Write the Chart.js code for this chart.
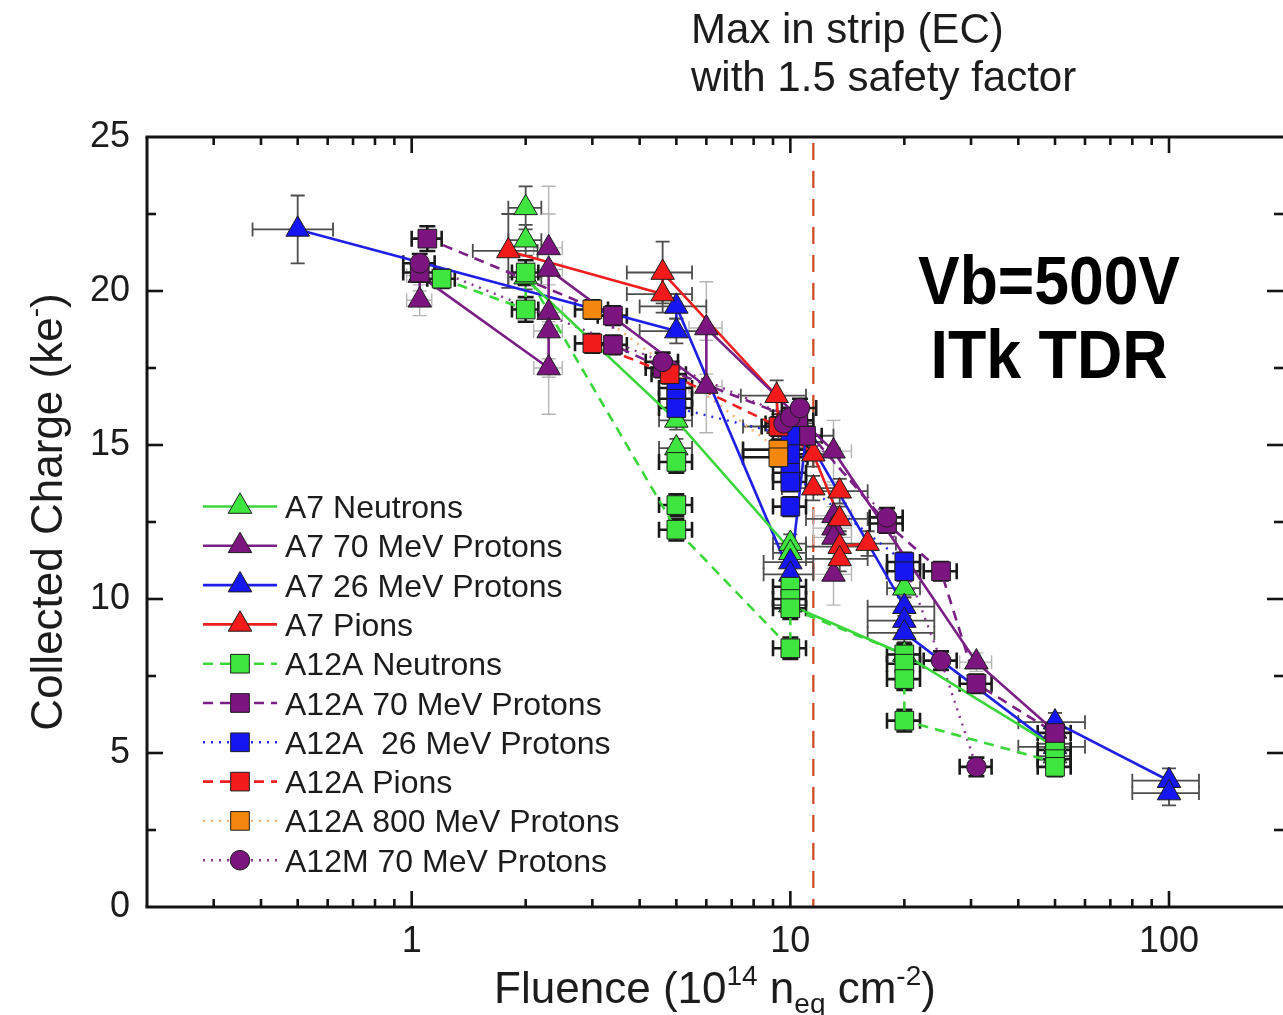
<!DOCTYPE html>
<html>
<head>
<meta charset="utf-8">
<title>Collected Charge vs Fluence</title>
<script src="https://cdn.jsdelivr.net/npm/chart.js@4.4.1/dist/chart.umd.min.js"></script>
<style>
html,body{margin:0;padding:0;background:#ffffff;overflow:hidden;}
canvas{display:block;}
</style>
</head>
<body>
<canvas id="chart" width="1283" height="1015"></canvas>
<script>
// ===================== DATA =====================
// axes
const xTickValues = [0.2,0.3,0.4,0.5,0.6,0.7,0.8,0.9,1,2,3,4,5,6,7,8,9,10,20,30,40,50,60,70,80,90,100,200];
const xTickLabels = ['1','10','100'];
const yTickValues = [0,5,10,15,20,25];
const yMinorTickValues = [2.5,7.5,12.5,17.5,22.5];
const maxInStripEC = 11.5;

// A7 Neutrons
const a7nX    = [2,2,2,5,5,10,10,10,20,20,50,50];
const a7nY    = [22.7,21.65,20.45,15.8,14.9,11.8,11.5,9.8,10.35,8.2,5.3,4.9];
const a7nXerr = [0.2,0.2,0.2,0.5,0.5,1,1,1,2,2,5,5];
const a7nYerr = [0.7,0.5,0.4,0.3,0.3,0.3,0.3,0.3,0.3,0.3,0.3,0.3];
const a7nLineX = [2,5,10,10,20,50];
const a7nLineY = [20.4,15.8,11.6,9.8,8.2,5.2];

// A7 70 MeV Protons
const a7pX    = [1.05,1.05,2.3,2.3,2.3,2.3,2.3,6,6,13,13,13,13,13,31,50];
const a7pY    = [19.7,20.5,21.4,20.7,19.3,18.7,17.5,18.8,16.9,14.8,12.7,12.3,12.0,10.8,7.95,5.7];
const a7pXerr = [0.08,0.08,0.2,0.2,0.2,0.2,0.2,0.6,0.6,1.5,1.5,1.5,1.5,1.5,3,5];
const a7pYerr = [0.5,0.5,2.0,1.8,1.5,1.5,1.5,1.5,1.5,1.0,1.0,1.0,1.0,1.0,0.3,0.3];
const a7pLineX = [1.05,1.05,2.3,2.3,6,6,13,31,50];
const a7pLineY = [19.7,20.5,17.5,20.7,16.9,18.8,14.8,7.95,5.7];

// A7 26 MeV Protons
const a7bX    = [0.5,5,5,10,10,11,20,20,20,50,50,100,100];
const a7bY    = [22.0,19.5,18.7,11.2,10.8,15.3,9.75,9.3,8.9,6.0,5.2,4.1,3.7];
const a7bXerr = [0.12,1,1,1.5,1.5,2,4,4,4,10,10,20,20];
const a7bYerr = [1.1,0.4,0.4,0.4,0.4,0.4,0.3,0.3,0.3,0.3,0.3,0.4,0.4];
const a7bLineX = [0.5,5,5,10,11,20,20,50,50,100];
const a7bLineY = [22.0,18.7,19.5,10.8,15.3,9.75,8.9,5.2,6.0,4.1];

// A7 Pions
const a7rX    = [1.8,4.6,4.6,9.2,9.3,11.5,11.5,13.5,13.5,13.5,13.5,16];
const a7rY    = [21.3,20.6,19.9,16.6,15.6,14.7,13.6,13.5,12.6,11.7,11.3,11.8];
const a7rXerr = [0.35,0.9,0.9,1.8,1.8,2,2,2.5,2.5,2.5,2.5,3];
const a7rYerr = [1.2,1.0,0.6,0.5,0.4,0.4,0.4,0.4,0.4,0.4,0.4,0.4];
const a7rLineX = [1.8,4.6,4.6,9.2,9.3,11.5,13.5,13.5,16];
const a7rLineY = [21.3,19.9,20.6,16.6,15.6,14.7,12.6,11.7,11.8];

// A12A Neutrons
const a12nX    = [1.2,2,2,5,5,5,10,10,10,10,20,20,20,20,50,50,50];
const a12nY    = [20.4,20.6,19.4,14.45,13.05,12.25,10.4,10.0,9.7,8.4,8.2,7.9,7.4,6.05,5.1,4.8,4.55];
const a12nXerr = [0.1,0.16,0.16,0.5,0.5,0.5,1,1,1,1,2,2,2,2,5,5,5];
const a12nYerr = [0.3,0.4,0.4,0.35,0.35,0.35,0.35,0.35,0.35,0.35,0.35,0.35,0.35,0.35,0.3,0.3,0.3];
const a12nLineX = [1.2,2,2,5,10,10,20,20,50];
const a12nLineY = [20.4,19.4,20.6,12.25,8.4,9.7,8.2,6.05,4.7];

// A12A 70 MeV Protons
const a12pX    = [1.1,1.05,3.4,3.4,4.6,10.5,11,18,25,31,50];
const a12pY    = [21.7,20.6,19.2,18.25,17.5,15.8,15.3,12.45,10.9,7.25,5.65];
const a12pXerr = [0.1,0.1,0.3,0.3,0.45,1,1.1,1.8,2.5,3,5];
const a12pYerr = [0.4,0.3,0.3,0.3,0.3,0.3,0.3,0.3,0.3,0.3,0.3];
const a12pLineX = [1.1,3.4,3.4,4.6,10.5,18,25,31,50];
const a12pLineY = [21.7,19.2,18.25,17.5,15.8,12.45,10.9,7.25,5.65];

// A12A 26 MeV Protons
const a12bX    = [5,5,5,10,10,10,10,10,20,20];
const a12bY    = [16.85,16.5,16.2,15.3,14.7,14.1,13.8,13.0,11.2,10.9];
const a12bXerr = [0.5,0.5,0.5,1,1,1,1,1,2,2];
const a12bYerr = [0.3,0.3,0.3,0.3,0.3,0.3,0.3,0.3,0.3,0.3];
const a12bLineX = [5,5,10,10,20,20];
const a12bLineY = [16.85,16.2,15.3,14.1,11.2,10.9];

// A12A Pions
const a12rX    = [3.0,4.8,9.3];
const a12rY    = [18.3,17.3,15.6];
const a12rXerr = [0.3,0.5,0.9];
const a12rYerr = [0.3,0.3,0.3];
const a12rLineX = [3.0,4.8,9.3];
const a12rLineY = [18.3,17.3,15.6];

// A12A 800 MeV Protons
const a12oX    = [3.0,9.3,9.3];
const a12oY    = [19.4,14.85,14.6];
const a12oXerr = [0.3,1.8,1.8];
const a12oYerr = [0.3,0.3,0.3];
const a12oLineX = [3.0,9.3];
const a12oLineY = [19.4,14.85];

// A12M 70 MeV Protons
const a12mX    = [1.05,4.6,9.6,10,10.6,18,25,31];
const a12mY    = [20.9,17.7,15.7,15.9,16.2,12.65,8.0,4.55];
const a12mXerr = [0.1,0.45,1,1,1.1,1.8,2.5,3];
const a12mYerr = [0.3,0.3,0.3,0.3,0.3,0.3,0.3,0.3];
const a12mLineX = [1.05,4.6,10,18,25,31];
const a12mLineY = [20.9,17.7,15.9,12.65,8.0,4.55];

// ===================== SERIES & STYLES =====================
const series = [
  {label:'A7 Neutrons',          x:a7nX,  y:a7nY,  xe:a7nXerr,  ye:a7nYerr,  lx:a7nLineX,  ly:a7nLineY},
  {label:'A7 70 MeV Protons',    x:a7pX,  y:a7pY,  xe:a7pXerr,  ye:a7pYerr,  lx:a7pLineX,  ly:a7pLineY},
  {label:'A7 26 MeV Protons',    x:a7bX,  y:a7bY,  xe:a7bXerr,  ye:a7bYerr,  lx:a7bLineX,  ly:a7bLineY},
  {label:'A7 Pions',             x:a7rX,  y:a7rY,  xe:a7rXerr,  ye:a7rYerr,  lx:a7rLineX,  ly:a7rLineY},
  {label:'A12A Neutrons',        x:a12nX, y:a12nY, xe:a12nXerr, ye:a12nYerr, lx:a12nLineX, ly:a12nLineY},
  {label:'A12A 70 MeV Protons',  x:a12pX, y:a12pY, xe:a12pXerr, ye:a12pYerr, lx:a12pLineX, ly:a12pLineY},
  {label:'A12A  26 MeV Protons', x:a12bX, y:a12bY, xe:a12bXerr, ye:a12bYerr, lx:a12bLineX, ly:a12bLineY},
  {label:'A12A Pions',           x:a12rX, y:a12rY, xe:a12rXerr, ye:a12rYerr, lx:a12rLineX, ly:a12rLineY},
  {label:'A12A 800 MeV Protons', x:a12oX, y:a12oY, xe:a12oXerr, ye:a12oYerr, lx:a12oLineX, ly:a12oLineY},
  {label:'A12M 70 MeV Protons',  x:a12mX, y:a12mY, xe:a12mXerr, ye:a12mYerr, lx:a12mLineX, ly:a12mLineY}
];

const GREEN='#3fe63f', PURPLE='#7c157f', BLUE='#1616f2', RED='#f21a1a', ORANGE='#f4880e';
const DASH=[10,7], DOT=[2,6];
const A7ERR={c:'#4d4d4d',w:1.8,cap:7}, A7LIGHT={c:'#b4b4b4',w:1.4,cap:7}, A12ERR={c:'#1a1a1a',w:2.6,cap:8};
const styles = [
  {shape:'triangle', r:13.6, fill:GREEN,  line:'#3ad63a', lw:2.6, dash:[],   err:A7ERR},
  {shape:'triangle', r:13.6, fill:PURPLE, line:'#7a1f85', lw:2.6, dash:[],   err:A7LIGHT},
  {shape:'triangle', r:13.6, fill:BLUE,   line:'#1f1fe6', lw:2.6, dash:[],   err:A7ERR},
  {shape:'triangle', r:13.6, fill:RED,    line:'#ee1e1e', lw:2.6, dash:[],   err:A7ERR},
  {shape:'rect',     r:13.2, fill:GREEN,  line:'#3ad63a', lw:2.6, dash:DASH, err:A12ERR},
  {shape:'rect',     r:13.2, fill:PURPLE, line:'#7a1f85', lw:2.6, dash:DASH, err:A12ERR},
  {shape:'rect',     r:13.2, fill:BLUE,   line:'#2a2ae0', lw:2.4, dash:DOT,  err:A12ERR},
  {shape:'rect',     r:13.2, fill:RED,    line:'#ee1e1e', lw:2.6, dash:DASH, err:A12ERR},
  {shape:'rect',     r:13.2, fill:ORANGE, line:'#f3b27a', lw:2.4, dash:DOT,  err:A12ERR},
  {shape:'circle',   r:9.8,  fill:PURPLE, line:'#86348f', lw:2.4, dash:DOT,  err:A12ERR}
];

const datasets = [];
series.forEach((s, i) => {
  const st = styles[i];
  datasets.push({
    label: s.label + ' (line)',
    data: s.lx.map((v, k) => ({x: v, y: s.ly[k]})),
    showLine: true, borderColor: st.line, borderWidth: st.lw, borderDash: st.dash,
    pointRadius: 0, pointHoverRadius: 0, fill: false, tension: 0, order: 100 + i
  });
  datasets.push({
    label: s.label,
    data: s.x.map((v, k) => ({x: v, y: s.y[k]})),
    showLine: false, pointStyle: st.shape, pointRadius: st.r, pointHoverRadius: st.r,
    backgroundColor: st.fill, borderColor: '#1c1c1c', borderWidth: 1,
    order: 20 - i,
    errX: s.xe, errY: s.ye, errStyle: st.err
  });
});

const FONT = '"Liberation Sans", Arial, Helvetica, sans-serif';
const TEXT = '#1c1c1c';

// ===================== PLUGINS =====================
const refLinePlugin = {
  id: 'refLine',
  beforeDatasetsDraw(chart) {
    const {ctx, chartArea: a, scales: {x}} = chart;
    const px = x.getPixelForValue(maxInStripEC);
    ctx.save();
    ctx.strokeStyle = '#d2451e'; ctx.lineWidth = 2.2; ctx.setLineDash([17, 11]);
    ctx.beginPath(); ctx.moveTo(px, a.top + 6); ctx.lineTo(px, a.bottom); ctx.stroke();
    ctx.restore();
  }
};

const errorBarsPlugin = {
  id: 'errorBars',
  beforeDatasetsDraw(chart) {
    const {ctx, chartArea: a, scales: {x: xs, y: ys}} = chart;
    ctx.save();
    ctx.beginPath(); ctx.rect(a.left, a.top, a.right - a.left, a.bottom - a.top); ctx.clip();
    chart.data.datasets.forEach(ds => {
      if (!ds.errX) return;
      const e = ds.errStyle;
      ctx.strokeStyle = e.c; ctx.lineWidth = e.w; ctx.setLineDash([]);
      const c = e.cap;
      ds.data.forEach((p, i) => {
        const px = xs.getPixelForValue(p.x), py = ys.getPixelForValue(p.y);
        const x0 = xs.getPixelForValue(p.x - ds.errX[i]), x1 = xs.getPixelForValue(p.x + ds.errX[i]);
        const y0 = ys.getPixelForValue(p.y - ds.errY[i]), y1 = ys.getPixelForValue(p.y + ds.errY[i]);
        ctx.beginPath();
        ctx.moveTo(x0, py); ctx.lineTo(x1, py);
        ctx.moveTo(x0, py - c); ctx.lineTo(x0, py + c);
        ctx.moveTo(x1, py - c); ctx.lineTo(x1, py + c);
        ctx.moveTo(px, y0); ctx.lineTo(px, y1);
        ctx.moveTo(px - c, y0); ctx.lineTo(px + c, y0);
        ctx.moveTo(px - c, y1); ctx.lineTo(px + c, y1);
        ctx.stroke();
      });
    });
    ctx.restore();
  }
};

function drawMarker(ctx, shape, r, x, y) {
  if (Chart.helpers && Chart.helpers.drawPoint) {
    Chart.helpers.drawPoint(ctx, {pointStyle: shape, radius: r, rotation: 0, borderWidth: 1}, x, y);
    return;
  }
  ctx.beginPath();
  if (shape === 'circle') ctx.arc(x, y, r, 0, Math.PI * 2);
  else if (shape === 'rect') { const s = Math.SQRT1_2 * r; ctx.rect(x - s, y - s, 2 * s, 2 * s); }
  else { ctx.moveTo(x, y - r); ctx.lineTo(x + 0.866 * r, y + r / 2); ctx.lineTo(x - 0.866 * r, y + r / 2); ctx.closePath(); }
  ctx.fill(); ctx.stroke();
}

const legendPlugin = {
  id: 'customLegend',
  afterDatasetsDraw(chart) {
    const ctx = chart.ctx;
    const lx0 = 203, lx1 = 277, mx = 240, tx = 285, y0 = 506.5, dy = 39.3;
    series.forEach((s, i) => {
      const st = styles[i];
      const y = y0 + i * dy;
      ctx.save();
      ctx.strokeStyle = st.line; ctx.lineWidth = st.lw; ctx.setLineDash(st.dash);
      ctx.beginPath(); ctx.moveTo(lx0, y); ctx.lineTo(lx1, y); ctx.stroke();
      ctx.setLineDash([]);
      ctx.fillStyle = st.fill; ctx.strokeStyle = '#1c1c1c'; ctx.lineWidth = 1;
      drawMarker(ctx, st.shape, st.r, mx, y);
      ctx.fillStyle = TEXT; ctx.font = '32px ' + FONT;
      ctx.textAlign = 'left'; ctx.textBaseline = 'alphabetic';
      ctx.fillText(s.label, tx, y + 11.5);
      ctx.restore();
    });
  }
};

const framePlugin = {
  id: 'frame',
  afterDatasetsDraw(chart) {
    const {ctx, chartArea: a, scales: {x, y}} = chart;
    ctx.save();
    ctx.strokeStyle = '#141414'; ctx.lineCap = 'butt'; ctx.setLineDash([]);
    const seg = (x0, y0, x1, y1) => { ctx.beginPath(); ctx.moveTo(x0, y0); ctx.lineTo(x1, y1); ctx.stroke(); };
    ctx.lineWidth = 2.6;
    x.ticks.forEach(t => {
      const px = x.getPixelForValue(t.value);
      if (px <= a.left + 1 || px >= a.right - 1) return;
      const L = xTickLabels.includes(String(t.value)) ? 16 : 8;
      seg(px, a.bottom, px, a.bottom - L);
      seg(px, a.top, px, a.top + L);
    });
    yTickValues.map(v => [v, 16]).concat(yMinorTickValues.map(v => [v, 9])).forEach(([v, L]) => {
      const py = y.getPixelForValue(v);
      if (py <= a.top + 1 || py >= a.bottom - 1) return;
      seg(a.left, py, a.left + L, py);
      seg(a.right, py, a.right - L, py);
    });
    ctx.lineWidth = 3;
    seg(a.left - 1.5, a.top, a.right, a.top);
    seg(a.left - 1.5, a.bottom, a.right, a.bottom);
    seg(a.left, a.top, a.left, a.bottom);
    ctx.restore();
  }
};

function drawRich(ctx, parts, cx, baseY) {
  let w = 0;
  parts.forEach(p => { ctx.font = p.font; w += ctx.measureText(p.t).width; });
  let x = cx - w / 2;
  ctx.textAlign = 'left'; ctx.textBaseline = 'alphabetic';
  parts.forEach(p => { ctx.font = p.font; ctx.fillText(p.t, x, baseY + (p.dy || 0)); x += ctx.measureText(p.t).width; });
}

function drawScaledBold(ctx, text, cx, baseY, size, targetW) {
  ctx.save();
  ctx.font = 'bold ' + size + 'px ' + FONT;
  const w = ctx.measureText(text).width;
  const s = targetW / w;
  ctx.translate(cx, baseY); ctx.scale(s, 1);
  ctx.textAlign = 'center'; ctx.textBaseline = 'alphabetic';
  ctx.fillStyle = '#000';
  ctx.fillText(text, 0, 0);
  ctx.restore();
}

const textPlugin = {
  id: 'texts',
  afterDraw(chart) {
    const ctx = chart.ctx;
    ctx.save();
    ctx.fillStyle = TEXT;
    ctx.textAlign = 'left'; ctx.textBaseline = 'alphabetic';
    ctx.font = '42px ' + FONT;
    ctx.fillText('Max in strip (EC)', 691, 43);
    ctx.fillText('with 1.5 safety factor', 691, 91);

    drawScaledBold(ctx, 'Vb=500V', 1049, 304, 68, 262);
    drawScaledBold(ctx, 'ITk TDR', 1049, 378, 68, 237);

    const big = '44px ' + FONT, small = '28px ' + FONT;
    ctx.fillStyle = TEXT;
    drawRich(ctx, [
      {t: 'Fluence (10', font: big},
      {t: '14', font: small, dy: -18},
      {t: ' n', font: big},
      {t: 'eq', font: small, dy: 10},
      {t: ' cm', font: big},
      {t: '-2', font: small, dy: -18},
      {t: ')', font: big}
    ], 715, 1003);

    ctx.save();
    ctx.translate(62, 512);
    ctx.rotate(-Math.PI / 2);
    drawRich(ctx, [
      {t: 'Collected Charge (ke', font: big},
      {t: '-', font: small, dy: -18},
      {t: ')', font: big}
    ], 0, 0);
    ctx.restore();
    ctx.restore();
  }
};

// ===================== CHART =====================
new Chart(document.getElementById('chart'), {
  type: 'scatter',
  data: {datasets},
  options: {
    responsive: false,
    animation: false,
    devicePixelRatio: 1,
    events: [],
    layout: {autoPadding: false, padding: {top: 137, right: 0, bottom: 0, left: 0}},
    plugins: {legend: {display: false}, tooltip: {enabled: false}, title: {display: false}},
    scales: {
      x: {
        type: 'logarithmic', min: 0.2, max: 200, position: 'bottom',
        afterBuildTicks: sc => { sc.ticks = xTickValues.map(v => ({value: v})); },
        afterFit: sc => { sc.height = 108; sc.paddingLeft = 0; sc.paddingRight = 0; },
        ticks: {
          autoSkip: false, maxRotation: 0, minRotation: 0, padding: 13, color: TEXT,
          font: {family: FONT, size: 36},
          callback: v => xTickLabels.includes(String(v)) ? String(v) : ''
        },
        grid: {display: false, drawTicks: false},
        border: {display: false}
      },
      y: {
        type: 'linear', min: 0, max: 25, position: 'left',
        afterBuildTicks: sc => { sc.ticks = yTickValues.map(v => ({value: v})); },
        afterFit: sc => { sc.width = 147; sc.paddingTop = 0; sc.paddingBottom = 0; },
        ticks: {padding: 17, color: TEXT, font: {family: FONT, size: 36}},
        grid: {display: false, drawTicks: false},
        border: {display: false}
      }
    }
  },
  plugins: [refLinePlugin, errorBarsPlugin, legendPlugin, framePlugin, textPlugin]
});
</script>
</body>
</html>
